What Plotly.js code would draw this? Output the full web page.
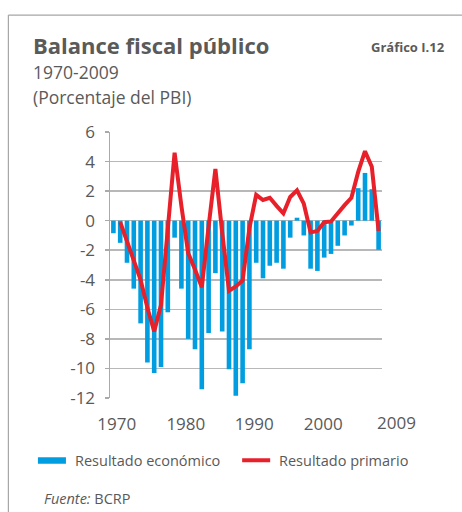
<!DOCTYPE html>
<html>
<head>
<meta charset="utf-8">
<script src="https://cdn.plot.ly/plotly-3.0.1.min.js"></script>
<style>
  html, body { margin: 0; padding: 0; background: #fff; }
  #chart { width: 462px; height: 512px; }
</style>
</head>
<body>
<div id="chart"></div>
<script>
// ---- data ----
const years = [1970,1971,1972,1973,1974,1975,1976,1977,1978,1979,
               1980,1981,1982,1983,1984,1985,1986,1987,1988,1989,
               1990,1991,1992,1993,1994,1995,1996,1997,1998,1999,
               2000,2001,2002,2003,2004,2005,2006,2007,2008,2009];
const resultadoEconomico = [-0.85,-1.5,-2.85,-4.6,-6.95,-9.6,-10.3,-9.9,-6.2,-1.15,
                            -4.6,-8.0,-8.7,-11.4,-7.6,-3.55,-7.5,-10.05,-11.85,-11.0,
                            -8.7,-2.85,-3.9,-3.05,-2.85,-3.25,-1.15,0.2,-1.0,-3.25,
                            -3.4,-2.5,-2.25,-1.7,-1.0,-0.33,2.2,3.23,2.13,-1.97];
const resultadoPrimario = [null,-0.1,-1.4,-2.7,-4.0,-5.9,-7.5,-5.7,-0.5,4.6,
                           1.0,-2.2,-3.3,-4.5,-0.4,3.5,-0.8,-4.75,-4.45,-4.05,
                           -0.5,1.75,1.4,1.55,1.0,0.5,1.6,2.05,1.15,-0.8,
                           -0.7,-0.1,-0.05,0.55,1.05,1.55,3.3,4.7,3.65,-0.7];
const yTickVals = [6,4,2,0,-2,-4,-6,-8,-10,-12];
const yTickText = ["6","4","2","0","-2","-4","-6","-8","-10","-12"];
const xTickText = ["1970","1980","1990","2000","2009"];
const seriesNames = ["Resultado económico","Resultado primario"];
const titleText = "Balance fiscal público";
const subtitle1 = "1970-2009";
const subtitle2 = "(Porcentaje del PBI)";
const chartNo = "Gráfico I.12";
const sourceLabel = "Fuente:";
const sourceText = "BCRP";

// ---- layout helpers (pixel -> paper) ----
const W = 462, H = 512;
const L = 110, R = 381.7, T = 131.5, B = 397.7;
const px = p => (p - L) / (R - L);
const py = p => (B - p) / (B - T);

const FONT = "Open Sans, Noto Sans, sans-serif";
const BLUE = "#009ee0";
const RED = "#e8202a";
const GREY = "#595959";

const xTickPos = [1970.5, 1980.65, 1990.7, 2000.85];

const traces = [
  {
    type: "bar", x: years, y: resultadoEconomico, name: seriesNames[0],
    marker: { color: BLUE, line: { width: 0 } }, hoverinfo: "x+y"
  },
  {
    type: "scatter", mode: "lines", x: years, y: resultadoPrimario, name: seriesNames[1],
    line: { color: RED, width: 4 }, connectgaps: false, hoverinfo: "x+y"
  }
];

const annotations = [
  { text: "<b>" + titleText + "</b>", x: px(31), y: py(44), xanchor: "left", yanchor: "middle",
    font: { family: FONT, size: 22, color: "#5a5a5a" } },
  { text: "<b>" + chartNo + "</b>", x: px(447), y: py(46), xanchor: "right", yanchor: "middle",
    font: { family: FONT, size: 13, color: "#5a5a5a" } },
  { text: subtitle1, x: px(31), y: py(71), xanchor: "left", yanchor: "middle",
    font: { family: FONT, size: 17.5, color: "#5a5a5a" } },
  { text: subtitle2, x: px(31), y: py(96), xanchor: "left", yanchor: "middle",
    font: { family: FONT, size: 17.5, color: "#5a5a5a" } },
  // legend texts
  { text: seriesNames[0], x: px(73), y: py(460), xanchor: "left", yanchor: "middle",
    font: { family: FONT, size: 14.5, color: GREY } },
  { text: seriesNames[1], x: px(277), y: py(460), xanchor: "left", yanchor: "middle",
    font: { family: FONT, size: 14.5, color: GREY } },
  // source
  { text: "<i>" + sourceLabel + "</i> " + sourceText, x: px(42), y: py(498), xanchor: "left", yanchor: "middle",
    font: { family: FONT, size: 14.5, color: GREY } },
  // last x tick label (sits past the last bar)
  { text: xTickText[4], x: px(396), y: py(422), xanchor: "center", yanchor: "middle",
    font: { family: FONT, size: 17, color: GREY } }
].map(a => Object.assign({ xref: "paper", yref: "paper", showarrow: false }, a));

const shapes = [
  // frame
  { type: "line", xref: "paper", yref: "paper", x0: px(8.5), x1: px(462), y0: py(14.5), y1: py(14.5),
    line: { color: "#a6a6a6", width: 1.2 } },
  { type: "line", xref: "paper", yref: "paper", x0: px(8.5), x1: px(8.5), y0: py(14.5), y1: py(512),
    line: { color: "#a6a6a6", width: 1.2 } },
  // legend symbols
  { type: "rect", xref: "paper", yref: "paper", x0: px(38), x1: px(66), y0: py(457), y1: py(463.5),
    fillcolor: BLUE, line: { width: 0 } },
  { type: "line", xref: "paper", yref: "paper", x0: px(242), x1: px(270), y0: py(460), y1: py(460),
    line: { color: RED, width: 4 } }
];

const layout = {
  width: W, height: H,
  margin: { l: L, r: W - R, t: T, b: H - B, pad: 0 },
  paper_bgcolor: "#fff", plot_bgcolor: "#fff",
  showlegend: false,
  bargap: 0.32,
  font: { family: FONT, color: GREY },
  xaxis: {
    range: [1969.5, 2009.5], showgrid: false, zeroline: false, showline: false,
    ticks: "", tickvals: xTickPos, ticktext: xTickText.slice(0, 4),
    tickfont: { family: FONT, size: 17, color: GREY }, ticklabelstandoff: 14
  },
  yaxis: {
    range: [-12, 6], tickvals: yTickVals, ticktext: yTickText,
    showgrid: true, gridcolor: "#b8b8b8", gridwidth: 1.5, zeroline: false,
    showline: true, linecolor: "#aaaaaa", linewidth: 1.5,
    ticks: "outside", ticklen: 4, tickcolor: "#aaaaaa", tickwidth: 1.5,
    tickfont: { family: FONT, size: 17, color: GREY }, ticklabelstandoff: 6
  },
  annotations: annotations,
  shapes: shapes
};

Plotly.newPlot("chart", traces, layout, { displayModeBar: false, staticPlot: true });
</script>
</body>
</html>
